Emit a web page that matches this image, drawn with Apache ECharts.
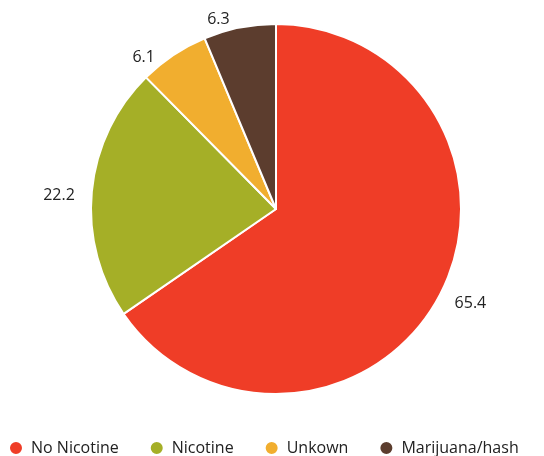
<!DOCTYPE html>
<html>
<head>
<meta charset="utf-8">
<script src="https://cdn.jsdelivr.net/npm/echarts@6/dist/echarts.min.js"></script>
<style>
html, body { margin: 0; padding: 0; background: #fff; }
#piechart { width: 544px; height: 456px; }
</style>
</head>
<body>
<div id="piechart"></div>
<script>
var categories = ['No Nicotine', 'Nicotine', 'Unkown', 'Marijuana/hash'];
var values = [65.4, 22.2, 6.1, 6.3];
var colors = ['#EF3D27', '#A5AF27', '#F1AE2F', '#5C3D2E'];

var myChart = echarts.init(document.getElementById('piechart'));

// small nudges so the value labels sit where the original put them
var labelNudge = [[1, 4], [-2, 5], [-8, 11], [-3, 2]];

var pieData = categories.map(function (name, i) {
    return {
        name: name,
        value: values[i],
        itemStyle: { color: colors[i] },
        label: { offset: labelNudge[i] }
    };
});

option = {
    textStyle: {
        fontFamily: 'Open Sans'
    },
    legend: {
        data: categories,
        bottom: -5,
        left: 3,
        icon: 'circle',
        itemWidth: 14,
        itemHeight: 14,
        itemGap: 30,
        textStyle: {
            fontFamily: 'Open Sans',
            fontSize: 16,
            color: '#222',
            padding: [0, 0, 0, 3]
        }
    },
    series: [{
        type: 'pie',
        center: [276, 209],
        radius: [0, 185],
        startAngle: 90,
        clockwise: true,
        animation: false,
        data: pieData,
        itemStyle: {
            borderColor: '#fff',
            borderWidth: 2
        },
        label: {
            show: true,
            position: 'outside',
            formatter: '{c}',
            fontFamily: 'Open Sans',
            fontSize: 16,
            color: '#222'
        },
        labelLine: {
            show: false,
            length: 10,
            length2: 0
        }
    }]
};

myChart.setOption(option);
</script>
</body>
</html>
